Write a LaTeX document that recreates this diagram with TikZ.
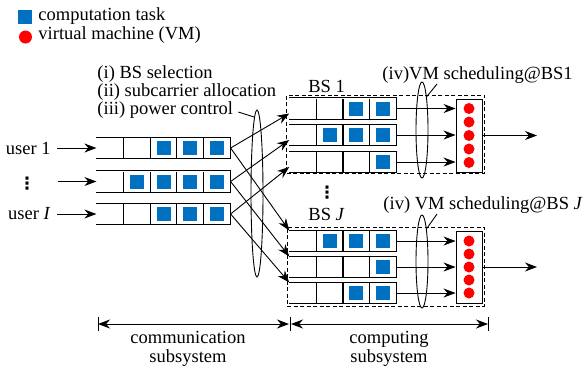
\documentclass[tikz,border=0pt]{standalone}
\usepackage{fontspec}
\setmainfont{Liberation Serif}
\newfontfamily\dotsfont{DejaVu Sans}
\usepackage{amsmath}
\usepackage{tikz}
\usetikzlibrary{arrows.meta,shapes.geometric}
\definecolor{taskblue}{RGB}{0,112,192}

\tikzset{
    queue/.style={minimum width=#1*26.6pt, minimum height=20pt, inner sep=0pt,
        fill=white, line width=1.2pt,
        path picture={
            \foreach \k in {2,...,#1}
                \draw ([xshift=-(\k-1)*26.6pt]path picture bounding box.north east)
                    -- ([xshift=-(\k-1)*26.6pt]path picture bounding box.south east);
        },
        append after command={
            \pgfextra{\let\qnode=\tikzlastnode}
            (\qnode.north west) edge (\qnode.north east)
            (\qnode.north east) edge (\qnode.south east)
            (\qnode.south east) edge (\qnode.south west)
        }},
    task/.style={fill=taskblue, minimum size=14pt, inner sep=0pt},
    vm/.style={circle, fill=red, minimum size=11pt, inner sep=0pt},
    txt/.style={inner sep=0pt},
    vdot/.style={inner sep=0pt, font=\dotsfont\fontsize{17pt}{17pt}\selectfont\bfseries},
    frame/.style={draw, dash pattern=on 4pt off 2.5pt, inner sep=0pt},
    oval/.style={draw, ellipse, inner sep=0pt, minimum width=12pt},
}

\begin{document}
\begin{tikzpicture}[x=1pt, y=-1pt, line width=0.9pt,
    >={Stealth[length=12pt,width=9pt]},
    font=\fontsize{18.5pt}{18.5pt}\selectfont]
    \useasboundingbox (0,0) rectangle (585,368);

    % legend
    \node[task] (LT) at (25,17) {};
    \node[txt, anchor=west] (LTX) at (38,16) {computation task};
    \node[vm, minimum size=13pt] (LV) at (25.5,37) {};
    \node[txt, anchor=west] (LVX) at (38,35.5) {virtual machine (VM)};

    \node[txt, anchor=west] (SEL) at (97,74) {(i) BS selection};
    \node[txt, anchor=west] (SUB) at (97,92) {(ii) subcarrier allocation};
    \node[txt, anchor=west] (PWR) at (97,110.5) {(iii) power control};

        \node[txt, anchor=east] (U1) at (51,148) {user 1};
        \node[vdot] (UD) at (27,184) {⋮};
        \node[txt, anchor=east] (UI) at (51,214) {user \textit{I}};
        \coordinate (IN2) at (58,181.5);

        \node[queue=5] (Q1) at (163.5,148) {};
        \node[queue=5] (Q2) at (163.5,181.5) {};
        \node[queue=5] (Q3) at (163.5,214) {};

        \node[frame, minimum width=198pt, minimum height=78pt] (BS1) at (385.5,134) {};
        \node[frame, minimum width=197pt, minimum height=79pt] (BSJ) at (385.5,266.5) {};
        \node (B1L) at (326.5,86) {BS 1};
        \node[vdot] (BD) at (327,193) {⋮};
        \node (BJL) at (326.5,214) {BS \textit{J}};

        \node[queue=4] (B1Q1) at (343,108.5) {};
        \node[queue=4] (B1Q2) at (343,135) {};
        \node[queue=4] (B1Q3) at (343,162) {};
        \node[queue=4] (BJQ1) at (343,241) {};
        \node[queue=4] (BJQ2) at (343,267) {};
        \node[queue=4] (BJQ3) at (343,293) {};

        % tasks waiting in the queues
        \foreach \c in {3,4,5} \node[task] (TA\c) at ({83.7+26.6*\c},148) {};
        \foreach \c in {2,3,4,5} \node[task] (TB\c) at ({83.7+26.6*\c},181.5) {};
        \foreach \c in {3,4,5} \node[task] (TC\c) at ({83.7+26.6*\c},214) {};
        \foreach \c in {3,4} \node[task] (TD\c) at ({276.5+26.6*\c},108.5) {};
        \foreach \c in {2,3,4} \node[task] (TE\c) at ({276.5+26.6*\c},135) {};
        \foreach \c in {4} \node[task] (TF\c) at ({276.5+26.6*\c},162) {};
        \foreach \c in {2,3,4} \node[task] (TG\c) at ({276.5+26.6*\c},241) {};
        \foreach \c in {4} \node[task] (TH\c) at ({276.5+26.6*\c},267) {};
        \foreach \c in {3,4} \node[task] (TK\c) at ({276.5+26.6*\c},293) {};

        \node[draw, minimum width=26pt, minimum height=73pt, inner sep=0pt] (VM1) at (469,135.5) {};
        \node[draw, minimum width=26pt, minimum height=72pt, inner sep=0pt] (VMJ) at (469,267) {};
        \foreach \k in {-2,...,2} \node[vm] (VA\k) at (469,{135.5+13.5*\k}) {};
        \foreach \k in {-2,...,2} \node[vm] (VB\k) at (469,{267+13*\k}) {};
        \coordinate (OUT1) at (537,135.5);
        \coordinate (OUTJ) at (537,267);

        \node[oval, minimum height=167pt] (E0) at (257,193.5) {};
        \node[oval, minimum height=96pt] (E1) at (422,130) {};
        \node[oval, minimum height=93pt] (EJ) at (422,261.5) {};

        \node[txt, anchor=west] (SC1) at (382,75) {(iv)VM scheduling@BS1};
        \node[txt, anchor=west] (SCJ) at (383,205.5) {(iv) VM scheduling@BS \textit{J}};
        \coordinate (SC1p) at (437,84);
        \coordinate (SCJp) at (437,214);

        \coordinate (D0) at (98,324);
        \coordinate (D1) at (290,324);
        \coordinate (D2) at (488,324);
        \node[align=center] (COMM) at (188,349) {communication\\subsystem};
        \node[align=center] (COMP) at (389,349) {computing\\subsystem};


        \draw[->, shorten <=6pt] (U1) -- (Q1);
        \draw[->] (IN2) -- (Q2);
        \draw[->, shorten <=6pt] (UI) -- (Q3);

        \draw[->] (Q1.east) -- ([yshift=-5pt]B1Q1.west);
        \draw[->] (Q2.east) -- ([yshift=-5pt]B1Q2.west);
        \draw[->] (Q3.east) -- ([yshift=-5pt]B1Q3.west);
        \draw[->] (Q1.east) -- (BJQ1.north west);
        \draw[->] (Q2.east) -- (BJQ2.north west);
        \draw[->] (Q3.east) -- (BJQ3.north west);

        \draw[->] (B1Q1.east) -- (B1Q1.east -| VM1.west);
        \draw[->] (B1Q2.east) -- (B1Q2.east -| VM1.west);
        \draw[->] (B1Q3.east) -- (B1Q3.east -| VM1.west);
        \draw[->] (BJQ1.east) -- (BJQ1.east -| VMJ.west);
        \draw[->] (BJQ2.east) -- (BJQ2.east -| VMJ.west);
        \draw[->] (BJQ3.east) -- (BJQ3.east -| VMJ.west);

        \draw[->] (VM1) -- (OUT1);
        \draw[->] (VMJ) -- (OUTJ);

        \draw[shorten <=5pt] (PWR.east) -- (E0.92);
        \draw (E1.82) -- (SC1p);
        \draw (EJ.82) -- (SCJp);

        \draw ([yshift=7pt]D0) -- ([yshift=-7pt]D0);
        \draw ([yshift=7pt]D1) -- ([yshift=-7pt]D1);
        \draw ([yshift=7pt]D2) -- ([yshift=-7pt]D2);
        \draw[<->, shorten >=1pt] (D0) -- (D1);
        \draw[<->, shorten <=1pt] (D1) -- (D2);

\end{tikzpicture}
\end{document}
